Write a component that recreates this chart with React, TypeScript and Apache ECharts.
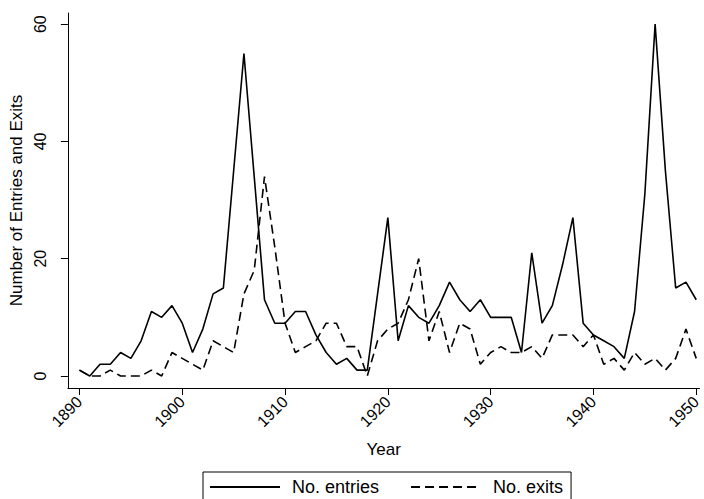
import React, { useEffect, useRef } from "react";
import * as echarts from "echarts";

const years: number[] = [];
for (let y = 1890; y <= 1950; y++) years.push(y);

const entries = [
  1, 0, 2, 2, 4, 3, 6, 11, 10, 12,
  9, 4, 8, 14, 15, 35, 55, 34, 13, 9,
  9, 11, 11, 7, 4, 2, 3, 1, 1, 14,
  27, 6, 12, 10, 9, 12, 16, 13, 11, 13,
  10, 10, 10, 4, 21, 9, 12, 19, 27, 9,
  7, 6, 5, 3, 11, 31, 60, 35, 15, 16,
  13,
];

const exits = [
  1, 0, 0, 1, 0, 0, 0, 1, 0, 4,
  3, 2, 1, 6, 5, 4, 14, 18, 34, 22,
  9, 4, 5, 6, 9, 9, 5, 5, 0, 6,
  8, 9, 13, 20, 6, 11, 4, 9, 8, 2,
  4, 5, 4, 4, 5, 3, 7, 7, 7, 5,
  7, 2, 3, 1, 4, 2, 3, 1, 3, 8,
  3,
];

const xTicks = [1890, 1900, 1910, 1920, 1930, 1940, 1950];
const yTicks = [0, 20, 40, 60];

const FONT = "Liberation Sans";

export default function App() {
  const ref = useRef<HTMLDivElement>(null);
  useEffect(() => {
    if (!ref.current) return;
    const chart = echarts.init(ref.current, undefined, { renderer: "svg" });
    chart.setOption({
      animation: false,
      backgroundColor: "#ffffff",
      textStyle: { fontFamily: FONT, color: "#000" },
      grid: { left: 65, right: 0, top: 13, bottom: 111, containLabel: false },
      xAxis: {
        type: "value",
        min: 1888.875,
        max: 1950.32,
        name: "Year",
        nameLocation: "middle",
        nameGap: 53,
        nameTextStyle: { fontSize: 17, color: "#000", fontFamily: FONT },
        axisLine: { onZero: false, lineStyle: { color: "#000", width: 1 } },
        axisTick: { show: true, length: 7, customValues: xTicks, lineStyle: { color: "#000" } },
        axisLabel: {
          customValues: xTicks,
          formatter: (v: number) => String(v),
          rotate: 45,
          margin: 11,
          fontSize: 16,
          color: "#000",
          fontFamily: FONT,
        },
        splitLine: { show: false },
      },
      yAxis: {
        type: "value",
        min: -2.05,
        max: 61.9,
        name: "Number of Entries and Exits",
        nameLocation: "middle",
        nameGap: 39,
        nameTextStyle: { fontSize: 17, color: "#000", fontFamily: FONT },
        axisLine: { show: true, lineStyle: { color: "#000", width: 1 } },
        axisTick: { show: true, length: 7, customValues: yTicks, lineStyle: { color: "#000" } },
        axisLabel: {
          customValues: yTicks,
          formatter: (v: number) => String(v),
          rotate: 90,
          margin: 19,
          fontSize: 16,
          color: "#000",
          fontFamily: FONT,
        },
        splitLine: { show: false },
      },
      legend: {
        left: 203,
        top: 472,
        orient: "horizontal",
        borderColor: "#000",
        borderWidth: 1,
        padding: [6, 8, 6, 6],
        itemWidth: 70,
        itemHeight: 14,
        itemGap: 31,
        itemStyle: { opacity: 0 },
        textStyle: { fontSize: 18, color: "#000", fontFamily: FONT, padding: [0, 0, 0, 7] },
        data: ["No. entries", "No. exits"],
      },
      series: [
        {
          name: "No. entries",
          type: "line",
          data: years.map((y, i) => [y, entries[i]]),
          symbol: "none",
          lineStyle: { color: "#000", width: 1.6, type: "solid" },
          itemStyle: { color: "#000" },
        },
        {
          name: "No. exits",
          type: "line",
          data: years.map((y, i) => [y, exits[i]]),
          symbol: "none",
          lineStyle: { color: "#000", width: 1.6, type: [9, 5] },
          itemStyle: { color: "#000" },
        },
      ],
    });
    return () => chart.dispose();
  }, []);
  return (
    <div
      ref={ref}
      style={{ position: "fixed", left: 0, top: 0, width: 704, height: 499 }}
    />
  );
}
